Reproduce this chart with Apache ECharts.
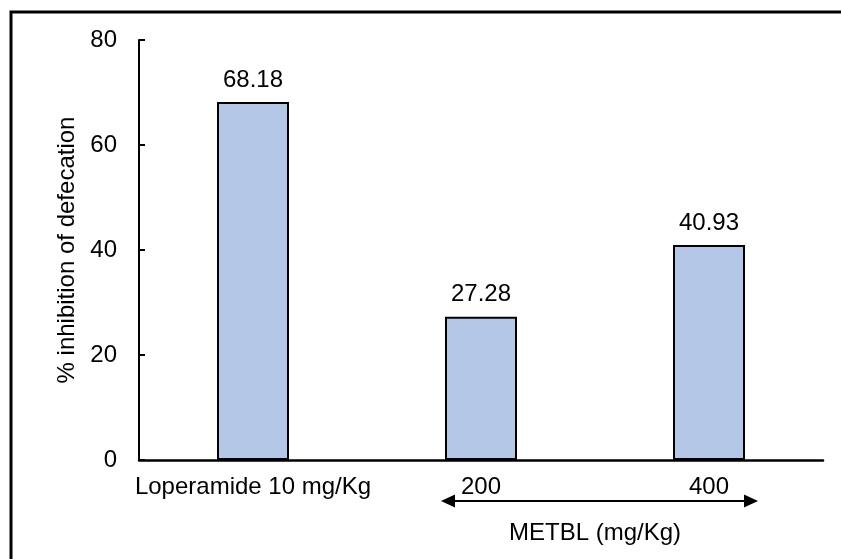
<!DOCTYPE html>
<html>
<head>
<meta charset="utf-8">
<script src="https://cdn.jsdelivr.net/npm/echarts@6/dist/echarts.min.js"></script>
<style>
html,body{margin:0;padding:0;background:#fff;}
#chart{width:841px;height:559px;}
</style>
</head>
<body>
<div id="chart"></div>
<script>
var categories = ['Loperamide 10 mg/Kg', '200', '400'];
var inhibition = [68.18, 27.28, 40.93];
var groupLabel = 'METBL (mg/Kg)';
var yAxisName = '% inhibition of defecation';
var yMin = 0, yMax = 80, yStep = 20;

var FONT = '"Liberation Sans", Arial, sans-serif';
var FS = 24;
var chart = echarts.init(document.getElementById('chart'), null, {renderer: 'canvas'});

var option = {
  animation: false,
  backgroundColor: '#ffffff',
  textStyle: {fontFamily: FONT},
  grid: {left: 139, right: 18, top: 40, bottom: 99, containLabel: false},
  xAxis: {
    type: 'category',
    data: categories,
    axisLine: {show: true, lineStyle: {color: '#000', width: 2.5}},
    axisTick: {show: false},
    axisLabel: {color: '#000', fontSize: FS, fontFamily: FONT, margin: 15, interval: 0},
    splitLine: {show: false}
  },
  yAxis: {
    type: 'value',
    min: yMin, max: yMax, interval: yStep,
    name: yAxisName,
    nameLocation: 'middle',
    nameRotate: 90,
    nameGap: 51,
    nameTextStyle: {color: '#000', fontSize: FS, fontFamily: FONT},
    axisLine: {show: true, lineStyle: {color: '#000', width: 2}},
    axisTick: {show: true, inside: true, length: 6, lineStyle: {color: '#000', width: 2}},
    axisLabel: {color: '#000', fontSize: FS, fontFamily: FONT, margin: 22},
    splitLine: {show: false}
  },
  series: [{
    type: 'bar',
    data: inhibition,
    barWidth: 72,
    itemStyle: {color: '#B4C7E7', borderColor: '#000', borderWidth: 2},
    label: {
      show: true, position: 'top', distance: 10,
      color: '#000', fontSize: FS, fontFamily: FONT,
      formatter: function (p) { return p.value.toFixed(2); }
    }
  }]
};
chart.setOption(option);

function drawExtras() {
  var c200 = chart.convertToPixel({xAxisIndex: 0}, categories[1]);
  var c400 = chart.convertToPixel({xAxisIndex: 0}, categories[2]);
  var y0 = chart.convertToPixel({yAxisIndex: 0}, 0);
  var ay = y0 + 41;
  var x1 = c200 - 40, x2 = c400 + 49;
  var ah = 14, aw = 6.5;
  chart.setOption({
    graphic: [
      {type: 'rect', shape: {x: 11, y: 12, width: 1000, height: 800},
       style: {fill: 'none', stroke: '#000', lineWidth: 3}, silent: true},
      {type: 'line', shape: {x1: x1 + ah - 2, y1: ay, x2: x2 - ah + 2, y2: ay},
       style: {stroke: '#000', lineWidth: 2}},
      {type: 'polygon', shape: {points: [[x1, ay], [x1 + ah, ay - aw], [x1 + ah, ay + aw]]},
       style: {fill: '#000'}},
      {type: 'polygon', shape: {points: [[x2, ay], [x2 - ah, ay - aw], [x2 - ah, ay + aw]]},
       style: {fill: '#000'}},
      {type: 'text', x: (c200 + c400) / 2, y: ay + 32,
       style: {text: groupLabel, fill: '#000', fontSize: FS, fontFamily: FONT,
               align: 'center', verticalAlign: 'middle'}}
    ]
  });
}
drawExtras();
</script>
</body>
</html>
